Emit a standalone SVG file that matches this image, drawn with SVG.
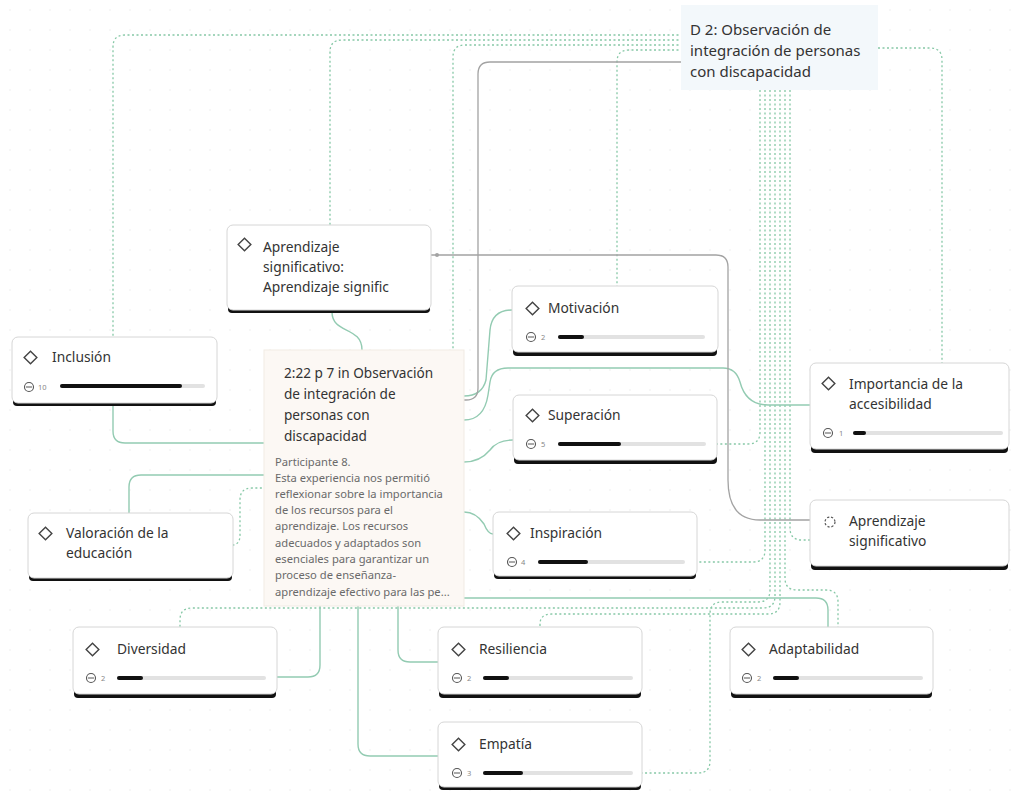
<svg xmlns="http://www.w3.org/2000/svg" width="1011" height="792" viewBox="0 0 1011 792">
<defs>
<pattern id="dots" width="20" height="20" patternUnits="userSpaceOnUse"><circle cx="10" cy="10" r="0.8" fill="#ececec"/></pattern>
<style>
.card{fill:#fff;stroke:#d6d6d6;stroke-width:1}
.shadow{fill:#111}
.t{font-family:"Noto Sans","Open Sans",sans-serif;font-size:13.8px;fill:#333}
.qt{font-family:"Noto Sans","Open Sans",sans-serif;font-size:13.6px;fill:#333}
.dt{font-family:"Noto Sans","Open Sans",sans-serif;font-size:15px;fill:#333}
.qb{font-family:"Noto Sans","Open Sans",sans-serif;font-size:11.2px;fill:#6a6a6a}
.cnt{font-family:"Noto Sans","Open Sans",sans-serif;font-size:7.5px;fill:#888}
.dia{fill:none;stroke:#444;stroke-width:1.4}
.face{fill:none;stroke:#555;stroke-width:1.1}
.track{stroke:#e2e2e2;stroke-width:4;stroke-linecap:round}
.fill{stroke:#111;stroke-width:4;stroke-linecap:round}
.sg{fill:none;stroke:#93cbb2;stroke-width:1.4}
.gr{fill:none;stroke:#a3a3a3;stroke-width:1.3}
.dg{fill:none;stroke:#86c8a6;stroke-width:1.3;stroke-dasharray:2 2.5}
</style>
</defs>
<rect width="1011" height="792" fill="#fff"/>
<rect width="1011" height="792" fill="url(#dots)"/>

<g id="connectors">
<path class="dg" d="M683,35 H125 Q113,35 113,47 V337"/>
<path class="dg" d="M683,40 H342 Q330,40 330,52 V225"/>
<path class="dg" d="M683,45 H465 Q453,45 453,57 V488 H252 Q240,488 240,500 V535 Q240,545 232,545"/>
<path class="dg" d="M683,50 H629 Q617,50 617,62 V286"/>
<path class="dg" d="M878,48 H930 Q942,48 942,60 V363"/>
<path class="dg" d="M760,90 V432 Q760,444 748,444 H717"/>
<path class="dg" d="M765,90 V550 Q765,562 753,562 H697"/>
<path class="dg" d="M770,90 V590 Q770,602 758,602 H722 Q710,602 710,614 V761 Q710,773 698,773 H642"/>
<path class="dg" d="M775,90 V596 Q775,608 763,608 H192 Q180,608 180,620 V627"/>
<path class="dg" d="M780,90 V602 Q780,614 768,614 H552 Q540,614 540,624 V627"/>
<path class="dg" d="M785,90 V578 Q785,590 797,590 H826 Q838,590 838,602 V627"/>
<path class="dg" d="M790,90 V528 Q790,540 802,540 H810"/>
<path class="sg" d="M113,405 V431 Q113,443 125,443 H264"/>
<path class="sg" d="M264,475 H141 Q129,475 129,487 V513"/>
<path class="sg" d="M332,312 C332,334 362,326 362,350"/>
<path class="sg" d="M464,396 Q482,396 486,380 L490,330 Q492,310 512,310"/>
<path class="sg" d="M464,420 Q484,420 488,395 L490,382 Q492,368 508,368 H723 Q736,368 740,382 Q746,405 768,405 H810"/>
<path class="sg" d="M464,462 Q480,462 490,450 Q497,440 513,440"/>
<path class="sg" d="M464,512 Q476,512 484,524 Q488,534 493,534"/>
<path class="sg" d="M464,598 H816 Q828,598 828,610 V627"/>
<path class="sg" d="M320,606 V665 Q320,677 308,677 H277"/>
<path class="sg" d="M358,606 V744 Q358,756 370,756 H438"/>
<path class="sg" d="M398,606 V650 Q398,662 410,662 H438"/>
<path class="gr" d="M683,62 H490 Q478,62 478,74 V388 Q478,400 466,400 H464"/>
<path class="gr" d="M430,255 H716 Q728,255 728,267 V480 Q728,520 760,520 H810"/>
<circle cx="437" cy="255" r="2" fill="#a3a3a3"/>
</g>

<g id="doc">
<rect x="681" y="5" width="197" height="85" fill="#f3f8fb"/>
<text class="dt" x="690" y="35">D 2: Observación de</text>
<text class="dt" x="690" y="56">integración de personas</text>
<text class="dt" x="690" y="77">con discapacidad</text>
</g>

<g id="quote">
<rect x="264" y="350" width="200" height="256" fill="#fcf8f4" stroke="#f1ebe4"/>
<text class="qt" x="284" y="378">2:22 p 7 in Observación</text>
<text class="qt" x="284" y="399">de integración de</text>
<text class="qt" x="284" y="420">personas con</text>
<text class="qt" x="284" y="441">discapacidad</text>
<text class="qb" x="275" y="466">Participante 8.</text>
<text class="qb" x="275" y="482">Esta experiencia nos permitió</text>
<text class="qb" x="275" y="498">reflexionar sobre la importancia</text>
<text class="qb" x="275" y="514">de los recursos para el</text>
<text class="qb" x="275" y="530">aprendizaje. Los recursos</text>
<text class="qb" x="275" y="547">adecuados y adaptados son</text>
<text class="qb" x="275" y="563">esenciales para garantizar un</text>
<text class="qb" x="275" y="579">proceso de enseñanza-</text>
<text class="qb" x="275" y="596">aprendizaje efectivo para las pe...</text>
</g>

<g id="aprendizaje-top">
<rect class="shadow" x="228" y="304" width="202" height="9" rx="4"/>
<rect class="card" x="227" y="225" width="204" height="85" rx="6"/>
<rect class="dia" x="240" y="240" width="9" height="9" transform="rotate(45 244.5 244.5)"/>
<text class="t" x="263" y="252">Aprendizaje</text>
<text class="t" x="263" y="272">significativo:</text>
<text class="t" x="263" y="292">Aprendizaje signific</text>
</g>

<g id="inclusion">
<rect class="shadow" x="13" y="397" width="203" height="9" rx="4"/>
<rect class="card" x="12" y="337" width="205" height="66" rx="6"/>
<rect class="dia" x="26" y="353" width="9" height="9" transform="rotate(45 30.5 357.5)"/>
<text class="t" x="52" y="362">Inclusión</text>
<circle class="face" cx="29" cy="387" r="4.5"/><line x1="26" y1="387" x2="32" y2="387" stroke="#555"/>
<text class="cnt" x="38" y="390">10</text>
<line class="track" x1="62" y1="386" x2="203" y2="386"/>
<line class="fill" x1="62" y1="386" x2="180" y2="386"/>
</g>

<g id="motivacion">
<rect class="shadow" x="513" y="347" width="204" height="9" rx="4"/>
<rect class="card" x="512" y="286" width="206" height="66" rx="6"/>
<rect class="dia" x="528" y="304" width="9" height="9" transform="rotate(45 532.5 308.5)"/>
<text class="t" x="548" y="313">Motivación</text>
<circle class="face" cx="531" cy="337" r="4.5"/><line x1="528" y1="337" x2="534" y2="337" stroke="#555"/>
<text class="cnt" x="541" y="340">2</text>
<line class="track" x1="560" y1="337" x2="703" y2="337"/>
<line class="fill" x1="560" y1="337" x2="582" y2="337"/>
</g>

<g id="superacion">
<rect class="shadow" x="514" y="455" width="203" height="9" rx="4"/>
<rect class="card" x="513" y="395" width="204" height="65" rx="6"/>
<rect class="dia" x="528" y="411" width="9" height="9" transform="rotate(45 532.5 415.5)"/>
<text class="t" x="548" y="420">Superación</text>
<circle class="face" cx="531" cy="444" r="4.5"/><line x1="528" y1="444" x2="534" y2="444" stroke="#555"/>
<text class="cnt" x="541" y="447">5</text>
<line class="track" x1="560" y1="444" x2="704" y2="444"/>
<line class="fill" x1="560" y1="444" x2="619" y2="444"/>
</g>

<g id="inspiracion">
<rect class="shadow" x="494" y="570" width="202" height="9" rx="4"/>
<rect class="card" x="493" y="512" width="204" height="64" rx="6"/>
<rect class="dia" x="509" y="529" width="9" height="9" transform="rotate(45 513.5 533.5)"/>
<text class="t" x="530" y="538">Inspiración</text>
<circle class="face" cx="512" cy="562" r="4.5"/><line x1="509" y1="562" x2="515" y2="562" stroke="#555"/>
<text class="cnt" x="521" y="565">4</text>
<line class="track" x1="540" y1="562" x2="683" y2="562"/>
<line class="fill" x1="540" y1="562" x2="586" y2="562"/>
</g>

<g id="importancia">
<rect class="shadow" x="811" y="444" width="197" height="9" rx="4"/>
<rect class="card" x="810" y="363" width="199" height="86" rx="6"/>
<rect class="dia" x="824" y="379" width="9" height="9" transform="rotate(45 828.5 383.5)"/>
<text class="t" x="849" y="389">Importancia de la</text>
<text class="t" x="849" y="409">accesibilidad</text>
<circle class="face" cx="828" cy="433" r="4.5"/><line x1="825" y1="433" x2="831" y2="433" stroke="#555"/>
<text class="cnt" x="839" y="436">1</text>
<line class="track" x1="855" y1="433" x2="1001" y2="433"/>
<line class="fill" x1="855" y1="433" x2="864" y2="433"/>
</g>

<g id="aprendizaje-right">
<rect class="shadow" x="811" y="561" width="197" height="9" rx="4"/>
<rect class="card" x="810" y="500" width="199" height="66" rx="6"/>
<circle cx="830" cy="522" r="5" fill="none" stroke="#555" stroke-width="1.2" stroke-dasharray="2.2 1.8"/>
<text class="t" x="849" y="526">Aprendizaje</text>
<text class="t" x="849" y="546">significativo</text>
</g>

<g id="valoracion">
<rect class="shadow" x="29" y="572" width="203" height="9" rx="4"/>
<rect class="card" x="28" y="513" width="205" height="65" rx="6"/>
<rect class="dia" x="41" y="529" width="9" height="9" transform="rotate(45 45.5 533.5)"/>
<text class="t" x="66" y="538">Valoración de la</text>
<text class="t" x="66" y="558">educación</text>
</g>

<g id="diversidad">
<rect class="shadow" x="74" y="689" width="202" height="9" rx="4"/>
<rect class="card" x="73" y="627" width="204" height="67" rx="6"/>
<rect class="dia" x="88" y="645" width="9" height="9" transform="rotate(45 92.5 649.5)"/>
<text class="t" x="117" y="654">Diversidad</text>
<circle class="face" cx="91" cy="678" r="4.5"/><line x1="88" y1="678" x2="94" y2="678" stroke="#555"/>
<text class="cnt" x="101" y="681">2</text>
<line class="track" x1="119" y1="678" x2="264" y2="678"/>
<line class="fill" x1="119" y1="678" x2="141" y2="678"/>
</g>

<g id="resiliencia">
<rect class="shadow" x="439" y="689" width="202" height="9" rx="4"/>
<rect class="card" x="438" y="627" width="204" height="67" rx="6"/>
<rect class="dia" x="454" y="645" width="9" height="9" transform="rotate(45 458.5 649.5)"/>
<text class="t" x="479" y="654">Resiliencia</text>
<circle class="face" cx="457" cy="678" r="4.5"/><line x1="454" y1="678" x2="460" y2="678" stroke="#555"/>
<text class="cnt" x="467" y="681">2</text>
<line class="track" x1="485" y1="678" x2="631" y2="678"/>
<line class="fill" x1="485" y1="678" x2="507" y2="678"/>
</g>

<g id="empatia">
<rect class="shadow" x="439" y="781" width="202" height="9" rx="4"/>
<rect class="card" x="438" y="722" width="204" height="65" rx="6"/>
<rect class="dia" x="454" y="740" width="9" height="9" transform="rotate(45 458.5 744.5)"/>
<text class="t" x="479" y="749">Empatía</text>
<circle class="face" cx="457" cy="773" r="4.5"/><line x1="454" y1="773" x2="460" y2="773" stroke="#555"/>
<text class="cnt" x="467" y="776">3</text>
<line class="track" x1="485" y1="773" x2="631" y2="773"/>
<line class="fill" x1="485" y1="773" x2="521" y2="773"/>
</g>

<g id="adaptabilidad">
<rect class="shadow" x="731" y="689" width="201" height="9" rx="4"/>
<rect class="card" x="730" y="627" width="203" height="67" rx="6"/>
<rect class="dia" x="744" y="645" width="9" height="9" transform="rotate(45 748.5 649.5)"/>
<text class="t" x="769" y="654">Adaptabilidad</text>
<circle class="face" cx="747" cy="678" r="4.5"/><line x1="744" y1="678" x2="750" y2="678" stroke="#555"/>
<text class="cnt" x="757" y="681">2</text>
<line class="track" x1="775" y1="678" x2="921" y2="678"/>
<line class="fill" x1="775" y1="678" x2="797" y2="678"/>
</g>
</svg>
